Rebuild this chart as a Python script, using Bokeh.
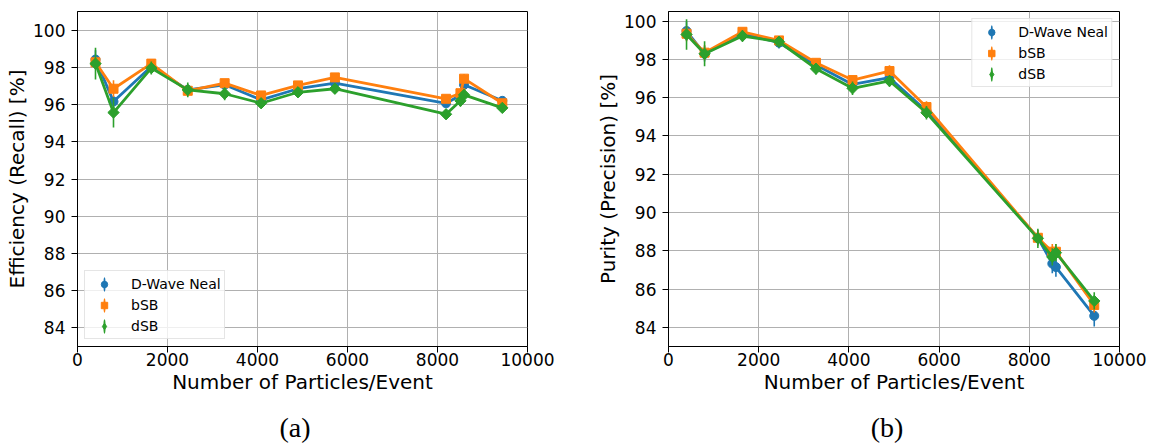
import math
from bokeh.plotting import figure
from bokeh.layouts import row, column
from bokeh.models import Range1d, FixedTicker, Legend, LegendItem, Div
from bokeh.embed import file_html
from bokeh.resources import INLINE

# ---------------- data ----------------
particles = [400, 800, 1640, 2450, 3270, 4080, 4900, 5720, 8190, 8510, 8590, 9440]
series_names = ["D-Wave Neal", "bSB", "dSB"]

eff_neal = [98.42, 96.16, 98.05, 96.79, 97.06, 96.25, 96.85, 97.15, 96.07, 96.50, 97.06, 96.20]
eff_bsb = [98.27, 96.85, 98.20, 96.74, 97.15, 96.49, 97.03, 97.46, 96.31, 96.61, 97.39, 96.07]
eff_dsb = [98.20, 95.57, 97.96, 96.79, 96.58, 96.07, 96.66, 96.85, 95.48, 96.20, 96.52, 95.82]
eff_neal_err = [0.50, 0.30, 0.25, 0.30, 0.25, 0.20, 0.20, 0.20, 0.20, 0.20, 0.25, 0.20]
eff_bsb_err = [0.30, 0.45, 0.25, 0.30, 0.20, 0.20, 0.20, 0.20, 0.20, 0.20, 0.25, 0.20]
eff_dsb_err = [0.85, 0.80, 0.35, 0.40, 0.35, 0.25, 0.25, 0.25, 0.25, 0.30, 0.30, 0.20]

pur_neal = [99.48, 98.29, 99.36, 98.87, 97.70, 96.69, 97.04, 95.30, 88.68, 87.33, 87.15, 84.60]
pur_bsb = [99.34, 98.35, 99.44, 98.99, 97.82, 96.92, 97.39, 95.51, 88.68, 87.95, 87.95, 85.17]
pur_dsb = [99.30, 98.29, 99.22, 98.92, 97.51, 96.49, 96.87, 95.21, 88.65, 87.68, 87.90, 85.38]
pur_neal_err = [0.50, 0.40, 0.20, 0.30, 0.25, 0.30, 0.30, 0.30, 0.40, 0.50, 0.50, 0.55]
pur_bsb_err = [0.40, 0.40, 0.20, 0.20, 0.20, 0.20, 0.30, 0.30, 0.40, 0.40, 0.40, 0.40]
pur_dsb_err = [0.80, 0.65, 0.30, 0.25, 0.30, 0.35, 0.30, 0.35, 0.50, 0.45, 0.45, 0.45]

x_ticks = [0, 2000, 4000, 6000, 8000, 10000]
y_ticks = [84, 86, 88, 90, 92, 94, 96, 98, 100]
captions = ["(a)", "(b)"]

COLORS = ["#1f77b4", "#ff7f0e", "#2ca02c"]
MARKERS = [("circle", 9, 0.0), ("square", 9, 0.0), ("square", 8, math.pi / 4)]
LEGEND_MARKERS = ["circle", "square", "diamond"]
NAN = float("nan")

FIG_H = 400


def make_panel(ylabel, ys, errs, yrange, width, bl, br, bt, legend_loc):
    p = figure(width=width, height=FIG_H, output_backend="svg", toolbar_location=None,
               x_range=Range1d(0, 10000), y_range=Range1d(*yrange),
               min_border_left=bl, min_border_right=br, min_border_top=bt,
               min_border_bottom=54)
    p.outline_line_color = "black"
    p.outline_line_width = 1
    p.background_fill_color = "white"
    p.border_fill_color = "white"
    for ax in (p.xaxis[0], p.yaxis[0]):
        ax.axis_line_color = "black"
        ax.major_tick_line_color = "black"
        ax.major_tick_out = 6
        ax.major_tick_in = 0
        ax.minor_tick_out = 0
        ax.minor_tick_in = 0
        ax.major_label_text_font = "DejaVu Sans"
        ax.major_label_text_font_size = "17px"
        ax.major_label_text_color = "black"
        ax.axis_label_text_font = "DejaVu Sans"
        ax.axis_label_text_font_size = "20px"
        ax.axis_label_text_font_style = "normal"
        ax.axis_label_text_color = "black"
    p.xaxis.major_label_standoff = 0
    p.xaxis.axis_label_standoff = 1
    p.yaxis.major_label_standoff = 6
    p.yaxis.axis_label_standoff = 1
    p.xaxis.ticker = FixedTicker(ticks=x_ticks)
    p.yaxis.ticker = FixedTicker(ticks=y_ticks)
    p.xaxis.axis_label = "Number of Particles/Event"
    p.yaxis.axis_label = ylabel
    p.grid.grid_line_color = "#b0b0b0"
    p.grid.grid_line_width = 1

    items = []
    for i, name in enumerate(series_names):
        c = COLORS[i]
        y = ys[i]
        e = errs[i]
        p.segment(x0=particles, y0=[a - b for a, b in zip(y, e)],
                  x1=particles, y1=[a + b for a, b in zip(y, e)],
                  line_color=c, line_width=1.6)
        p.line(particles, y, line_color=c, line_width=2.8)
        mk, sz, ang = MARKERS[i]
        p.scatter(particles, y, marker=mk, size=sz, angle=ang,
                  fill_color=c, line_color=c)
        # legend-only glyphs: thin vertical bar + marker
        bar = p.ellipse(x=[NAN], y=[NAN], width=0.05, height=1.0,
                        width_units="screen", height_units="screen",
                        fill_color=c, line_color=c, line_width=1.5)
        lm = p.scatter([NAN], [NAN], marker=LEGEND_MARKERS[i], size=8,
                       fill_color=c, line_color=c)
        items.append(LegendItem(label=name, renderers=[bar, lm]))

    leg = Legend(items=items, location=legend_loc)
    leg.margin = 7
    leg.padding = 3
    leg.spacing = 2
    leg.glyph_height = 16
    leg.glyph_width = 32
    leg.label_height = 19
    leg.label_standoff = 11
    leg.label_text_font = "DejaVu Sans"
    leg.label_text_font_size = "14px"
    leg.label_text_color = "black"
    leg.border_line_color = "#cccccc"
    leg.border_line_width = 1
    leg.background_fill_alpha = 0.8
    p.add_layout(leg, "center")
    return p


def caption_div(text, width, pad_left):
    return Div(text=text, width=width, height=47, margin=0,
               styles={"font-family": "'Liberation Serif', serif",
                       "font-size": "28px", "line-height": "28px",
                       "text-align": "center", "color": "black",
                       "padding-top": "14px", "padding-left": f"{pad_left}px",
                       "box-sizing": "border-box"})


pa = make_panel("Efficiency (Recall) [%]",
                [eff_neal, eff_bsb, eff_dsb], [eff_neal_err, eff_bsb_err, eff_dsb_err],
                (83, 101), 580, 77, 53, 11, "bottom_left")
pb = make_panel("Purity (Precision) [%]",
                [pur_neal, pur_bsb, pur_dsb], [pur_neal_err, pur_bsb_err, pur_dsb_err],
                (83, 100.5), 571, 88, 32, 10, "top_right")

ca = caption_div(captions[0], 580, 10)
cb = caption_div(captions[1], 571, 43)

layout = column(row(pa, pb), row(ca, cb))
open("out.html", "w").write(file_html(layout, INLINE))
